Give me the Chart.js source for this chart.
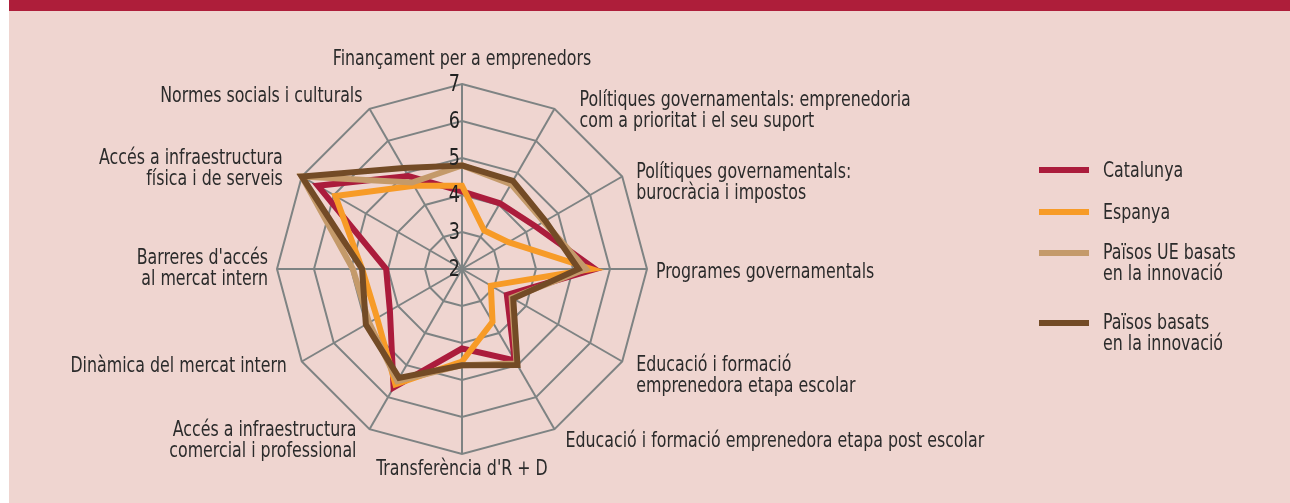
<!DOCTYPE html>
<html>
<head>
<meta charset="utf-8">
<script src="https://cdn.jsdelivr.net/npm/chart.js@4"></script>
<style>
  html, body { margin: 0; padding: 0; background: #fff; }
  #page { position: relative; width: 1290px; height: 503px; overflow: hidden; background: #fff; }
  #panel { position: absolute; left: 9px; top: 0; right: 0; bottom: 0; background: #efd5d0; }
  #band { position: absolute; left: 9px; top: 0; right: 0; height: 11px; background: #ae1e3a; }
  #chartBox { position: absolute; left: 0; top: 0; width: 1290px; height: 503px; }
  #legend { position: absolute; left: 1039px; top: 0; font-family: "DejaVu Sans Condensed", "Liberation Sans Narrow", sans-serif; font-size: 22px; color: #2b2b2b; }
  .item { position: absolute; left: 0; white-space: nowrap; }
  .swatch { position: absolute; left: 0; width: 50px; height: 6px; }
  .txt { position: absolute; left: 64px; line-height: 21px; transform: scaleX(0.8); transform-origin: 0 0; }
</style>
</head>
<body>
<div id="page">
  <div id="panel"></div>
  <div id="band"></div>
  <div id="chartBox"><canvas id="radarChart" width="1290" height="503"></canvas></div>
  <div id="legend"></div>
</div>
<script>
// etiquetes dels eixos (en sentit horari des de dalt)
var axisLabels = [
    ['Finançament per a emprenedors'],
    ['Polítiques governamentals: emprenedoria', 'com a prioritat i el seu suport'],
    ['Polítiques governamentals:', 'burocràcia i impostos'],
    ['Programes governamentals'],
    ['Educació i formació', 'emprenedora etapa escolar'],
    ['Educació i formació emprenedora etapa post escolar'],
    ["Transferència d'R + D"],
    ['Accés a infraestructura', 'comercial i professional'],
    ['Dinàmica del mercat intern'],
    ["Barreres d'accés", 'al mercat intern'],
    ['Accés a infraestructura', 'física i de serveis'],
    ['Normes socials i culturals']
];

var tickValues = [2, 3, 4, 5, 6, 7];

var catalunya   = [4.1, 4.05, 4.3, 5.6, 3.4, 4.85, 4.15, 5.7, 4.25, 4.05, 6.5, 4.9];
var espanya     = [4.25, 3.2, 3.45, 5.5, 2.9, 3.65, 4.5, 5.6, 4.65, 4.7, 5.95, 4.6];
var paisosUE    = [4.8, 4.65, 4.55, 5.35, 3.55, 4.95, 4.6, 5.5, 4.9, 4.95, 7.0, 4.7];
var paisosInnov = [4.8, 4.75, 4.6, 5.15, 3.6, 5.0, 4.6, 5.4, 5.0, 4.7, 7.0, 5.15];

var seriesNames = [['Catalunya'], ['Espanya'], ['Països UE basats', 'en la innovació'], ['Països basats', 'en la innovació']];
var seriesColors = ['#ab1c3c', '#f79b27', '#c49a6a', '#734b26'];

var FONT = '"DejaVu Sans Condensed", "Liberation Sans Narrow", sans-serif';
var SQUEEZE = 0.8; // la lletra original és més estreta
var gridColor = '#7e8383';

// desplaçament de cada etiqueta respecte del vèrtex exterior: [dx, dy, align]
var labelPlace = [
    [0, -25, 'center'],
    [25, 2, 'left'],
    [14, 6, 'left'],
    [9, 3, 'left'],
    [14, 14, 'left'],
    [11, 12, 'left'],
    [0, 15, 'center'],
    [-13, 12, 'right'],
    [-15, 5, 'right'],
    [-9, 0, 'right'],
    [-19, -8, 'right'],
    [-7, -13, 'right']
];

function squeezedText(ctx, t, x, y, sx) {
    ctx.save();
    ctx.translate(x, y);
    ctx.scale(sx, 1);
    ctx.fillText(t, 0, 0);
    ctx.restore();
}

// dibuixa etiquetes d'eixos i valors de l'escala
var labelPlugin = {
    id: 'axisText',
    afterDraw: function(chart) {
        var s = chart.scales.r;
        var ctx = chart.ctx;
        ctx.save();
        ctx.fillStyle = '#2b2b2b';
        ctx.textBaseline = 'middle';
        ctx.font = '22px ' + FONT;
        axisLabels.forEach(function(lines, i) {
            var p = s.getPointPosition(i, s.drawingArea);
            var pl = labelPlace[i];
            var lh = 21;
            var y0 = p.y + pl[1] - (lines.length - 1) * lh / 2;
            ctx.textAlign = pl[2];
            lines.forEach(function(t, j) {
                squeezedText(ctx, t, p.x + pl[0], y0 + j * lh, SQUEEZE);
            });
        });
        ctx.font = '23px ' + FONT;
        ctx.textAlign = 'right';
        ctx.fillStyle = '#222';
        tickValues.forEach(function(v) {
            var d = s.getDistanceFromCenterForValue(v);
            squeezedText(ctx, String(v), s.xCenter - 2, s.yCenter - d + 1, 0.85);
        });
        ctx.restore();
    }
};

function makeSet(label, data, color, order) {
    return {
        label: label,
        data: data,
        borderColor: color,
        backgroundColor: color,
        borderWidth: 6,
        pointRadius: 0,
        fill: false,
        tension: 0,
        order: order
    };
}

var ctx = document.getElementById('radarChart').getContext('2d');
var radarChart = new Chart(ctx, {
    type: 'radar',
    data: {
        labels: axisLabels,
        datasets: [
            makeSet('Catalunya', catalunya, seriesColors[0], 4),
            makeSet('Espanya', espanya, seriesColors[1], 3),
            makeSet('Països UE basats en la innovació', paisosUE, seriesColors[2], 2),
            makeSet('Països basats en la innovació', paisosInnov, seriesColors[3], 1)
        ]
    },
    options: {
        responsive: false,
        animation: false,
        devicePixelRatio: 1,
        layout: { padding: 0 },
        plugins: {
            legend: { display: false },
            tooltip: { enabled: false }
        },
        scales: {
            r: {
                min: 2,
                max: 7,
                ticks: { display: false, stepSize: 1 },
                pointLabels: { display: false },
                grid: { color: gridColor, lineWidth: 2 },
                angleLines: { color: gridColor, lineWidth: 2 },
                afterFit: function(scale) {
                    // centre i radi com a la figura original
                    scale.xCenter = 462;
                    scale.yCenter = 269;
                    scale.drawingArea = 185;
                }
            }
        }
    },
    plugins: [labelPlugin]
});

// llegenda a la dreta
var legendTops = [170, 212, 253, 323];
var legend = document.getElementById('legend');
seriesNames.forEach(function(lines, i) {
    var item = document.createElement('div');
    item.className = 'item';
    item.style.top = legendTops[i] + 'px';
    var sw = document.createElement('div');
    sw.className = 'swatch';
    sw.style.background = seriesColors[i];
    sw.style.top = '-3px';
    item.appendChild(sw);
    var tx = document.createElement('div');
    tx.className = 'txt';
    tx.style.top = (lines.length > 1 ? -12 : -11) + 'px';
    tx.innerHTML = lines.join('<br>');
    item.appendChild(tx);
    legend.appendChild(item);
});
</script>
</body>
</html>
